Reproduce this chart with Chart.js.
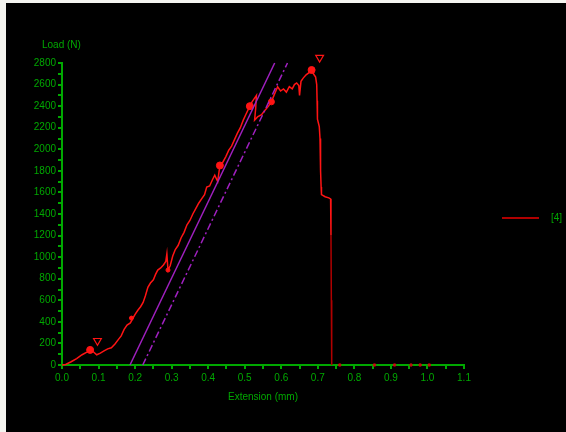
<!DOCTYPE html>
<html>
<head>
<meta charset="utf-8">
<script src="https://cdn.jsdelivr.net/npm/chart.js@4"></script>
<style>
  body { margin: 0; background: #f4f4f0; width: 566px; height: 432px; overflow: hidden; }
  #wrap { position: absolute; left: 6px; top: 3px; width: 560px; height: 429px; background: #000; }
  #yTitle { position: absolute; left: 36px; top: 36px; color: #00a800; font: 10px 'Liberation Sans', Arial, sans-serif; }
  #legend { position: absolute; left: 496px; top: 209px; color: #00a800; font: 10px 'Liberation Sans', Arial, sans-serif; display: flex; align-items: center; }
  #legend .swatch { width: 37px; height: 2px; background: #b00000; margin-right: 12px; }
</style>
</head>
<body>
<div id="wrap">
  <canvas id="chart" width="560" height="429"></canvas>
  <div id="yTitle">Load (N)</div>
  <div id="legend"><div class="swatch"></div><span>[4]</span></div>
</div>
<script>
/**
 * Load vs extension — tensile test trace
 */

// Extension (mm) and load (N) of the test trace
const EXT  = [0, 0.01, 0.025, 0.04, 0.055, 0.068, 0.077, 0.085, 0.095, 0.105, 0.115, 0.125, 0.135, 0.145, 0.155, 0.162, 0.17, 0.178, 0.187, 0.195,
              0.2, 0.208, 0.215, 0.222, 0.228, 0.235, 0.242, 0.25, 0.256, 0.262, 0.27, 0.278, 0.284, 0.287, 0.29, 0.296, 0.303, 0.31, 0.318, 0.326,
              0.334, 0.342, 0.35, 0.358, 0.366, 0.374, 0.382, 0.39, 0.396, 0.404, 0.412, 0.418, 0.426, 0.432, 0.44, 0.448, 0.456, 0.464, 0.472, 0.48,
              0.488, 0.496, 0.504, 0.514, 0.52, 0.526, 0.532, 0.53, 0.527, 0.535, 0.546, 0.555, 0.565, 0.573, 0.58, 0.59, 0.598, 0.606, 0.614, 0.622,
              0.63, 0.636, 0.642, 0.648, 0.65, 0.654, 0.66, 0.668, 0.676, 0.683, 0.688, 0.694, 0.697, 0.698, 0.699, 0.704, 0.706, 0.707, 0.708, 0.709,
              0.71, 0.72, 0.73, 0.735, 0.736, 0.737, 0.738];
const LOAD = [0, 5, 30, 60, 95, 120, 140, 125, 95, 110, 130, 150, 160, 195, 240, 270, 330, 370, 390, 440,
              470, 510, 540, 580, 640, 720, 760, 790, 840, 880, 900, 930, 960, 1030, 880, 920, 1010, 1070, 1110, 1180,
              1230, 1300, 1340, 1400, 1450, 1500, 1540, 1580, 1650, 1660, 1720, 1760, 1700, 1850, 1880, 1930, 1990, 2030, 2090, 2150,
              2200, 2270, 2330, 2400, 2440, 2470, 2500, 2380, 2270, 2300, 2320, 2360, 2400, 2440, 2500, 2580, 2540, 2560, 2530, 2580,
              2560, 2600, 2615, 2590, 2500, 2630, 2660, 2690, 2710, 2735, 2700, 2670, 2600, 2450, 2280, 2210, 2100, 1950, 1800, 1650,
              1580, 1560, 1550, 1540, 1200, 600, 0];

// Marked points on the trace
const MARK_EXT  = [0.077, 0.19, 0.29, 0.432, 0.514, 0.573, 0.683];
const MARK_LOAD = [140, 435, 880, 1850, 2400, 2440, 2735];

// Event flags (V)
const FLAG_EXT  = [0.097, 0.705];
const FLAG_LOAD = [225, 2850];

// Specks on the axis after break
const TAIL_EXT = [0.76, 0.855, 0.91, 0.955, 0.98, 1.005];

// Modulus lines (solid and offset)
const MOD_EXT    = [0.186, 0.582];
const OFFSET_EXT = [0.221, 0.617];
const MOD_LOAD   = [0, 2800];

const X_MIN = 0, X_MAX = 1.1, X_STEP = 0.05;
const Y_MIN = 0, Y_MAX = 2800, Y_STEP = 100;

const GREEN = '#00a800';
const RED   = '#ff1414';
const DARK_RED = '#b00000';
const PURPLE = '#a020c0';

Chart.defaults.font.family = "'Liberation Sans', Arial, sans-serif";
Chart.defaults.font.size = 10;
Chart.defaults.color = GREEN;

const zip = (xs, ys) => xs.map((x, i) => ({ x, y: ys[i] }));

new Chart(document.getElementById('chart'), {
  type: 'scatter',
  data: {
    datasets: [
      {
        label: 'modulus',
        data: zip(MOD_EXT, MOD_LOAD),
        showLine: true,
        borderColor: PURPLE,
        borderWidth: 1.5,
        pointRadius: 0,
      },
      {
        label: 'offset',
        data: zip(OFFSET_EXT, MOD_LOAD),
        showLine: true,
        borderColor: PURPLE,
        borderWidth: 1.5,
        borderDash: [7, 3, 2, 3],
        pointRadius: 0,
      },
      {
        label: '[4]',
        data: zip(EXT, LOAD),
        showLine: true,
        borderColor: RED,
        borderWidth: 1.5,
        pointRadius: 0,
        // final drop after the break is drawn darker
        segment: { borderColor: c => c.p0DataIndex >= EXT.length - 3 ? DARK_RED : undefined },
      },
      {
        label: 'marks',
        data: zip(MARK_EXT, MARK_LOAD),
        backgroundColor: RED,
        borderColor: RED,
        pointRadius: [3.5, 2, 2, 3.5, 3.5, 3, 3.5],
      },
      {
        label: 'flags',
        data: zip(FLAG_EXT, FLAG_LOAD),
        pointStyle: 'triangle',
        rotation: 180,
        backgroundColor: 'rgba(0,0,0,0)',
        borderColor: RED,
        borderWidth: 1.2,
        pointRadius: 4.5,
      },
      {
        label: 'tail',
        data: TAIL_EXT.map(x => ({ x, y: 0 })),
        backgroundColor: '#c01010',
        borderColor: '#c01010',
        pointStyle: 'rect',
        pointRadius: 1.5,
      },
    ]
  },
  options: {
    responsive: false,
    animation: false,
    clip: false,
    layout: { padding: { left: 0, top: 60, right: 102, bottom: 0 } },
    plugins: { legend: { display: false }, tooltip: { enabled: false } },
    scales: {
      x: {
        type: 'linear',
        min: X_MIN, max: X_MAX,
        afterFit: s => { s.height = 67; },
        border: { color: GREEN, width: 2 },
        grid: { drawOnChartArea: false, color: GREEN, tickLength: 4, lineWidth: 2 },
        ticks: {
          stepSize: X_STEP,
          padding: 3,
          color: GREEN,
          autoSkip: false,
          maxRotation: 0,
          callback: v => Math.round(v * 100) % 10 === 0 ? v.toFixed(1) : ''
        },
        title: { display: true, text: 'Extension (mm)', color: GREEN, padding: { top: 4, bottom: 29 } }
      },
      y: {
        type: 'linear',
        min: Y_MIN, max: Y_MAX,
        afterFit: s => { s.width = 56; },
        border: { color: GREEN, width: 2 },
        grid: { drawOnChartArea: false, color: GREEN, tickLength: 4, lineWidth: 2 },
        ticks: {
          stepSize: Y_STEP,
          padding: 2,
          color: GREEN,
          autoSkip: false,
          callback: v => v % 200 === 0 ? String(v) : ''
        }
      }
    }
  }
});
</script>
</body>
</html>
